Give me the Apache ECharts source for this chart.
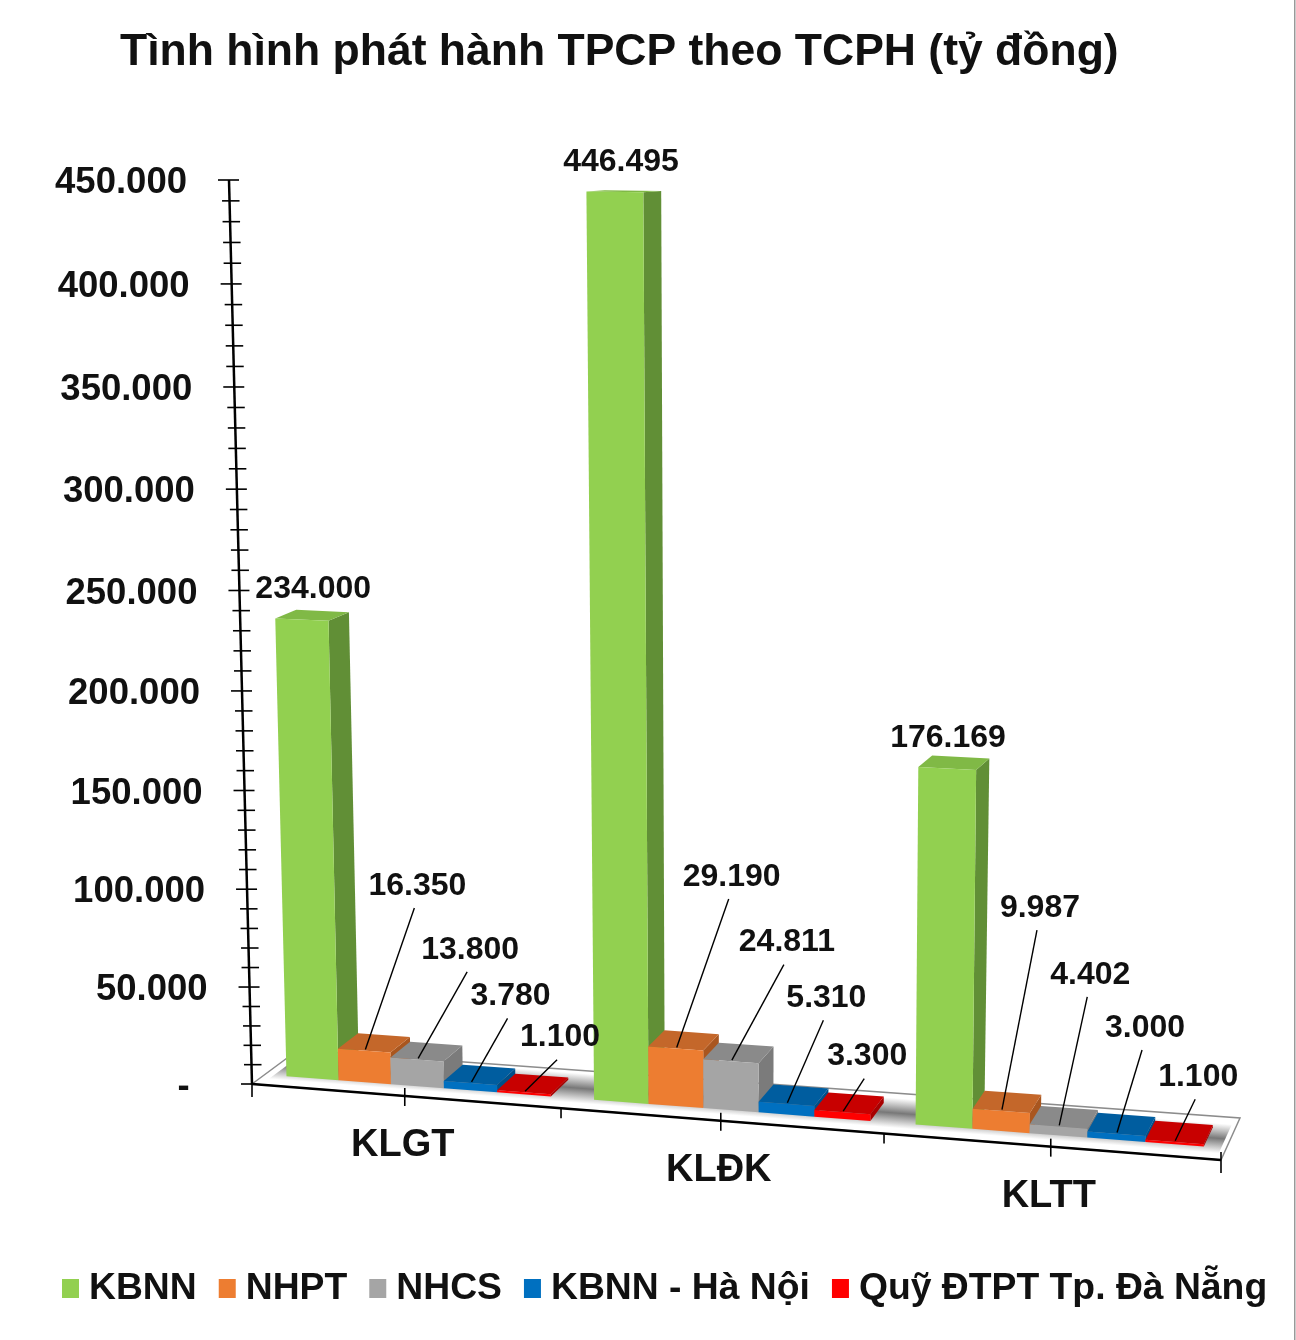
<!DOCTYPE html>
<html><head><meta charset="utf-8">
<style>html,body{margin:0;padding:0;background:#fff}#c{width:1296px;height:1340px}</style>
<script src="https://cdn.jsdelivr.net/npm/echarts@6/dist/echarts.min.js"></script>
</head><body><div id="c"></div>
<script>
const categories = ['KLGT','KLĐK','KLTT'];
const seriesNames = ['KBNN','NHPT','NHCS','KBNN - Hà Nội','Quỹ ĐTPT Tp. Đà Nẵng'];
const kbnn = [234000,446495,176169];
const nhpt = [16350,29190,9987];
const nhcs = [13800,24811,4402];
const kbnnHn = [3780,5310,3000];
const quyDn = [1100,3300,1100];
const tickValues = [0,50000,100000,150000,200000,250000,300000,350000,400000,450000];
const tickLabels = ['-  ','50.000','100.000','150.000','200.000','250.000','300.000','350.000','400.000','450.000'];

const FONT='"Liberation Sans",Arial,sans-serif';
const allValues=[kbnn,nhpt,nhcs,kbnnHn,quyDn];
const frontColors=['#92D050','#ED7D31','#A5A5A5','#0070C0','#FF0000'];
const topColors=['#80B946','#C4672A','#8A8A8A','#005D9F','#C80000'];
const sideColors=['#618F36','#A9561F','#7B7B7B','#004F88','#A80000'];
// label offset from the bar anchor, [dx,dy], per series, per category
const labelOffsets=[
 [[10,-32.5],[5,-32.5],[0,-32.5]],
 [[52,-166],[55,-173],[38,-204]],
 [[52,-111],[55,-120],[31,-153]],
 [[39,-88],[39,-107],[28,-107]],
 [[35,-56],[24,-57],[23,-66]]
];
// scene: perspective corners of the front and back planes
const F={bl:[252,1084],br:[1221,1160],tl:[229,180],tr:[1240,194]};
const B={bl:[298,1050],br:[1240,1118],tl:[275,176],tr:[1268,194]};
const W0=0.28,W1=0.74,ML=0.072,MR=0.066,SLOT=(1-ML-MR)/5,MAXV=450000;

function bil(Q,t,s){const o=[0,0];for(let i=0;i<2;i++){
  const bot=Q.bl[i]+(Q.br[i]-Q.bl[i])*t, top=Q.tl[i]+(Q.tr[i]-Q.tl[i])*t;
  o[i]=bot+(top-bot)*s;}return o;}
function project(api,u,v,w){
  const c=api.coord([u,v]),a=api.coord([0,0]),b=api.coord([3,MAXV]);
  const tr=(c[0]-a[0])/(b[0]-a[0]),sr=(a[1]-c[1])/(a[1]-b[1]);
  const t=0.9351*tr+0.0649*tr*tr,s=0.961*sr+0.039*sr*sr;
  const f=bil(F,t,s),k=bil(B,t,s);
  return [f[0]+(k[0]-f[0])*w,f[1]+(k[1]-f[1])*w];
}
function poly(points,fill,extra){return {type:'polygon',shape:{points},style:Object.assign({fill},extra||{})};}
function line(p,q,lw,color){return {type:'line',shape:{x1:p[0],y1:p[1],x2:q[0],y2:q[1]},style:{stroke:color||'#000',lineWidth:lw}};}
function text(x,y,str,size,align){return {type:'text',style:{x,y,text:str,font:'bold '+size+'px '+FONT,fill:'#111',align:align||'center',verticalAlign:'middle'}};}

function floorShade(P){
  const a=P(0,0,0),b=P(3,0,0),p0=P(1.5,0,0.16),p1=P(1.5,0,0.9);
  const dx=b[0]-a[0],dy=b[1]-a[1],len=Math.hypot(dx,dy),nx=-dy/len,ny=dx/len;
  const d=(p1[0]-p0[0])*nx+(p1[1]-p0[1])*ny;
  return new echarts.graphic.LinearGradient(p0[0],p0[1],p0[0]+nx*d,p0[1]+ny*d,[
    {offset:0,color:'rgba(125,125,125,0)'},{offset:0.5,color:'rgba(120,120,120,1)'},{offset:1,color:'rgba(125,125,125,0)'}],true);
}
function renderScene(params,api){
  const P=(u,v,w)=>project(api,u,v,w),ch=[];
  ch.push(poly([P(0,0,0),P(0,0,1),P(3,0,1),P(3,0,0)],'#fff',{stroke:'#8c8c8c',lineWidth:1.5}));
  ch.push(poly([P(0.03,0,0.08),P(0.03,0,0.96),P(2.985,0,0.96),P(2.985,0,0.08)],floorShade(P)));
  ch.push(line(P(0,0,0),P(3,0,0),2.5));
  ch.push(line(P(0,0,0),P(0,MAXV,0),2.5));
  for(let v=0;v<=MAXV;v+=10000){
    const p=P(0,v,0),major=v%50000===0;
    ch.push(line([p[0]-(major?11:7.5),p[1]],[p[0]+(v===0?0:10),p[1]],1.6));
  }
  tickValues.forEach((v,i)=>{const p=P(0,v,0);ch.push(text(p[0]-42,p[1]+3,tickLabels[i],36.5,'right'));});
  for(let h=0;h<=6;h++){
    const p=P(h/2,0,0),odd=h%2===1;
    const up=(odd||h===6)?8:0,dn=h===0||h===6?13:10;
    ch.push(line([p[0],p[1]-up],[p[0],p[1]+dn],1.6));
  }
  categories.forEach((c,i)=>{const p=P(i+0.5,0,0);ch.push(text(p[0]-2,p[1]+50,c,38));});
  return {type:'group',children:ch};
}
function renderBar(si){return function(params,api){
  const i=api.value(0),v=api.value(1);
  const u0=i+ML+si*SLOT,u1=u0+SLOT;
  const P=(u,val,w)=>project(api,u,val,w);
  return {type:'group',children:[
    poly([P(u1,0,W0),P(u1,0,W1),P(u1,v,W1),P(u1,v,W0)],sideColors[si]),
    poly([P(u0,v,W0),P(u1,v,W0),P(u1,v,W1),P(u0,v,W1)],topColors[si]),
    poly([P(u0,0,W0),P(u1,0,W0),P(u1,v,W0),P(u0,v,W0)],frontColors[si])
  ]};
};}
function renderLabel(params,api){
  const si=api.value(0),i=api.value(1),v=api.value(2);
  const um=i+ML+(si+0.5)*SLOT;
  const a=project(api,um,v,W0+0.03),off=labelOffsets[si][i];
  const lx=a[0]+off[0],ly=a[1]+off[1]+2.5;
  const ch=[text(lx,ly,v.toLocaleString('de-DE'),32)];
  if(si>0) ch.unshift(line(a,[lx-3,ly+22],1.4));
  return {type:'group',children:ch};
}
const barSeries=seriesNames.map((name,si)=>({
  type:'custom',name,renderItem:renderBar(si),clip:false,z:3+si,
  itemStyle:{color:frontColors[si]},
  data:allValues[si].map((v,i)=>[i,v]),encode:{x:0,y:1}
}));
const labelData=[];
allValues.forEach((arr,si)=>arr.forEach((v,i)=>labelData.push([si,i,v])));
const chart=echarts.init(document.getElementById('c'),null,{renderer:'canvas'});
chart.setOption({
  animation:false,backgroundColor:'#fff',
  title:{text:'Tình hình phát hành TPCP theo TCPH (tỷ đồng)',left:115,top:25,
    textStyle:{fontFamily:FONT,fontWeight:'bold',fontSize:44.5,color:'#111'}},
  legend:{data:seriesNames,left:57,top:1265,itemWidth:17,itemHeight:19,itemGap:22,icon:'rect',selectedMode:false,
    textStyle:{fontFamily:FONT,fontWeight:'bold',fontSize:37.3,color:'#111',padding:[0,0,0,5]}},
  grid:{left:252,top:180,width:969,height:904},
  xAxis:{type:'value',min:0,max:3,show:false},
  yAxis:{type:'value',min:0,max:MAXV,interval:50000,show:false},
  graphic:[{type:'rect',shape:{x:1294,y:0,width:1.5,height:1340},style:{fill:'#999'}}],
  series:[
    {type:'custom',renderItem:renderScene,clip:false,z:2,silent:true,data:[[0,0]],encode:{x:0,y:1}},
    ...barSeries,
    {type:'custom',renderItem:renderLabel,clip:false,z:20,silent:true,data:labelData,encode:{x:1,y:2}}
  ]
});
</script></body></html>
